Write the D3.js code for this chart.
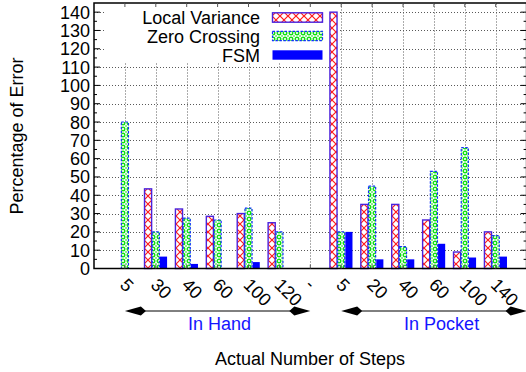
<!DOCTYPE html>
<html><head><meta charset="utf-8">
<script src="https://cdn.jsdelivr.net/npm/d3@7"></script>
<style>
html,body{margin:0;padding:0;background:#fff;}
svg{display:block;font-family:"Liberation Sans",Arial,sans-serif;}
</style></head>
<body>
<svg id="chart" width="526" height="372"></svg>
<script>
const categories = ["5","30","40","60","100","120","-","5","20","40","60","100","140"];
const localVariance = [0,43.5,32.5,28.5,30,25,0,140,35,35,26.5,9,20];
const zeroCrossing = [80,20,27.5,26.5,33,20,0,20,45,12,53,66,18];
const fsm = [0,6.5,2.5,0,3.5,0,0,20,5,5,13.5,6,6.5];
const seriesNames = ["Local Variance","Zero Crossing","FSM"];
const yTicks = [0,10,20,30,40,50,60,70,80,90,100,110,120,130,140];
const groups = [
  {label:"In Hand", from:1, to:7, at:4.06},
  {label:"In Pocket", from:8, to:14, at:11.25}
];

const svg = d3.select("#chart");
const x = d3.scaleLinear().domain([0,14]).range([94,526.6]);
const y = d3.scaleLinear().domain([0,145]).range([268.5,3]);
const step = x(1)-x(0);
const bw = step*0.23;
const offs = [-0.25,0,0.25];

const defs = svg.append("defs");
const pLV = defs.append("pattern").attr("id","pLV").attr("patternUnits","userSpaceOnUse")
  .attr("width",8).attr("height",8);
pLV.append("rect").attr("width",8).attr("height",8).attr("fill","#fff");
pLV.append("path").attr("d","M0,0L8,8M8,0L0,8").attr("stroke","#ff1a1a").attr("stroke-width",1.2);
const pZC = defs.append("pattern").attr("id","pZC").attr("patternUnits","userSpaceOnUse")
  .attr("width",6).attr("height",6);
pZC.append("rect").attr("width",6).attr("height",6).attr("fill","#fff");
pZC.append("circle").attr("cx",3).attr("cy",3).attr("r",1.8).attr("fill","none")
  .attr("stroke","#10e010").attr("stroke-width",1.4);
[[-0.7,-0.7],[5.3,5.3],[5.3,-0.7],[-0.7,5.3]].forEach(p=>{
  pZC.append("rect").attr("x",p[0]).attr("y",p[1]).attr("width",1.4).attr("height",1.4).attr("fill","#10e010");
});

const styles = [
  {fill:"url(#pLV)", stroke:"#4a22dd", dash:null, sw:1.4},
  {fill:"url(#pZC)", stroke:"#1030ff", dash:"2.5,1.5", sw:1.2},
  {fill:"#0000ff", stroke:"none", dash:null, sw:0}
];

// grid
const grid = svg.append("g").attr("stroke","#222").attr("stroke-width",1).attr("stroke-dasharray","1,2").attr("opacity",0.75);
yTicks.filter(v=>v>0).forEach(v=>{
  grid.append("line").attr("x1",x(0)).attr("x2",x(14)).attr("y1",Math.round(y(v))+0.5).attr("y2",Math.round(y(v))+0.5);
});
d3.range(1,14).forEach(i=>{
  grid.append("line").attr("x1",Math.round(x(i))+0.5).attr("x2",Math.round(x(i))+0.5).attr("y1",y(0)).attr("y2",y(145));
});
// opaque key area
svg.append("rect").attr("x",105).attr("y",4).attr("width",234).attr("height",58).attr("fill","#fff");

// bars
const all = [localVariance, zeroCrossing, fsm];
all.forEach((vals,si)=>{
  const st = styles[si];
  svg.append("g").selectAll("rect").data(vals).join("rect")
    .attr("x",(d,i)=>x(i+1+offs[si])-bw/2)
    .attr("y",d=>y(d))
    .attr("width",bw)
    .attr("height",d=>y(0)-y(d))
    .attr("fill",st.fill)
    .attr("stroke",st.stroke)
    .attr("stroke-width",st.sw)
    .attr("stroke-dasharray",st.dash);
});

// axes frame
const frame = svg.append("g").attr("stroke","#000");
frame.append("rect").attr("x",x(0)).attr("y",y(145)).attr("width",x(14)-x(0)).attr("height",y(0)-y(145))
  .attr("fill","none").attr("stroke-width",1.5);
d3.range(0,145,5).forEach(v=>{
  const len = v%10===0 ? 6 : 3;
  frame.append("line").attr("x1",x(0)).attr("x2",x(0)+len).attr("y1",y(v)).attr("y2",y(v)).attr("stroke-width",1);
  frame.append("line").attr("x1",x(14)).attr("x2",x(14)-len).attr("y1",y(v)).attr("y2",y(v)).attr("stroke-width",1);
});
d3.range(1,14).forEach(i=>{
  frame.append("line").attr("x1",x(i)).attr("x2",x(i)).attr("y1",y(145)).attr("y2",y(145)+4).attr("stroke-width",1).attr("stroke","#555");
  frame.append("line").attr("x1",x(i)).attr("x2",x(i)).attr("y1",y(0)).attr("y2",y(0)-4).attr("stroke-width",1).attr("stroke","#555");
});

// y tick labels
svg.append("g").selectAll("text").data(yTicks).join("text")
  .attr("x",90).attr("y",d=>y(d)+6.5).attr("text-anchor","end")
  .attr("font-size",18).text(d=>d);

// x tick labels rotated
svg.append("g").selectAll("text").data(categories).join("text")
  .attr("transform",(d,i)=>`translate(${x(i+1)-6},${286}) rotate(45)`)
  .attr("font-size",18).attr("text-anchor","start").text(d=>d);

// legend
const ly = [17.5, 36, 55];
seriesNames.forEach((n,i)=>{
  svg.append("text").attr("x",260).attr("y",ly[i]+6.5).attr("text-anchor","end").attr("font-size",18).text(n);
  const st = styles[i];
  svg.append("rect").attr("x",272.5).attr("y",ly[i]-4.7).attr("width",50).attr("height",9.4)
    .attr("fill",st.fill).attr("stroke",st.stroke).attr("stroke-width",st.sw).attr("stroke-dasharray",st.dash);
});

// group arrows
const ay = 311;
groups.forEach(g=>{
  const x1 = x(g.from), x2 = x(g.to);
  svg.append("line").attr("x1",x1+10).attr("x2",x2-10).attr("y1",ay).attr("y2",ay).attr("stroke","#000").attr("stroke-width",1);
  svg.append("path").attr("d",`M${x1},${ay}L${x1+16},${ay-4.6}L${x1+21},${ay}L${x1+16},${ay+4.6}Z`).attr("fill","#000");
  svg.append("path").attr("d",`M${x2},${ay}L${x2-16},${ay-4.6}L${x2-21},${ay}L${x2-16},${ay+4.6}Z`).attr("fill","#000");
  svg.append("text").attr("x",x(g.at)).attr("y",330).attr("text-anchor","middle").attr("font-size",18)
    .attr("fill","#1515ff").text(g.label);
});

// axis titles
svg.append("text").attr("x",310).attr("y",365).attr("text-anchor","middle").attr("font-size",18).text("Actual Number of Steps");
svg.append("text").attr("transform","translate(23,136) rotate(-90)").attr("text-anchor","middle").attr("font-size",18).text("Percentage of Error");
</script>
</body></html>
